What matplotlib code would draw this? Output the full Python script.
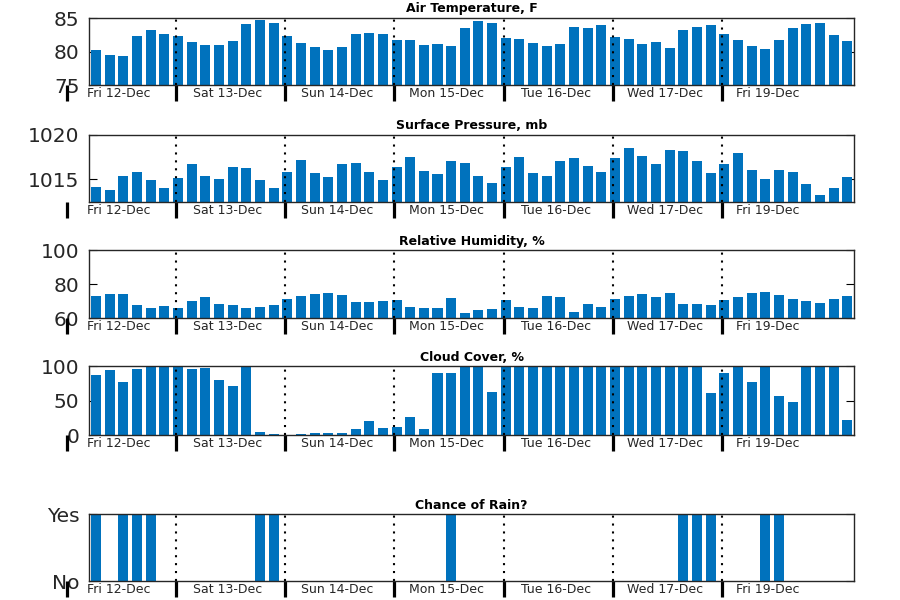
import numpy as np
import matplotlib
matplotlib.use('Agg')
import matplotlib.pyplot as plt

# DATA (3-hourly forecast, hours counted from Fri 12-Dec 00:00)
START_HOUR = 6.5
STEP_HOURS = 3

air_temp = [80.25, 79.5, 79.35, 82.35, 83.25, 82.65, 82.35, 81.45,
            81.0, 81.0, 81.6, 84.15, 84.75, 84.3, 82.35, 81.3,
            80.7, 80.25, 80.7, 82.65, 82.8, 82.65, 81.75, 81.75,
            81.0, 81.15, 80.85, 83.55, 84.6, 84.3, 82.05, 81.9,
            81.3, 80.85, 81.15, 83.7, 83.55, 84.0, 82.2, 81.9,
            81.15, 81.45, 80.55, 83.25, 83.7, 84.0, 82.65, 81.75,
            80.85, 80.4, 81.75, 83.55, 84.15, 84.3, 82.5, 81.6]

pressure = [1014.14, 1013.8, 1015.38, 1015.83, 1014.92, 1014.02, 1015.15, 1016.73,
            1015.38, 1015.04, 1016.39, 1016.28, 1014.92, 1014.02, 1015.83, 1017.18,
            1015.71, 1015.26, 1016.73, 1016.84, 1015.83, 1014.92, 1016.39, 1017.52,
            1015.94, 1015.6, 1017.07, 1016.84, 1015.38, 1014.59, 1016.39, 1017.52,
            1015.71, 1015.38, 1017.07, 1017.41, 1016.5, 1015.83, 1017.41, 1018.53,
            1017.63, 1016.73, 1018.31, 1018.2, 1017.07, 1015.71, 1016.73, 1017.97,
            1016.05, 1015.04, 1016.05, 1015.83, 1014.47, 1013.23, 1014.02, 1015.26]

humidity = [73.1, 74.3, 74.3, 67.8, 66.1, 67.3, 66.1, 70.2,
            72.5, 68.4, 67.8, 66.1, 66.7, 67.8, 71.4, 73.1,
            74.3, 74.9, 73.7, 69.6, 69.6, 70.2, 70.8, 66.7,
            66.1, 66.1, 72.0, 63.1, 64.9, 65.5, 70.8, 66.7,
            66.1, 73.1, 72.5, 63.7, 68.4, 66.7, 71.4, 73.1,
            74.3, 72.5, 74.9, 68.4, 68.4, 67.8, 70.8, 72.5,
            74.9, 75.5, 73.7, 71.4, 70.2, 69.0, 71.4, 73.1]

cloud = [87.4, 94.7, 77.3, 96.1, 100, 100, 100, 96.1,
         97.6, 80.2, 71.5, 100, 4.8, 1.9, 0, 1.9,
         3.4, 3.4, 3.4, 9.2, 20.8, 10.6, 12.1, 26.6,
         9.2, 90.3, 90.3, 100, 100, 62.8, 100, 100,
         100, 100, 100, 100, 100, 100, 100, 100,
         100, 100, 100, 100, 100, 61.4, 90.3, 100,
         77.3, 100, 57, 48.3, 100, 100, 100, 22.2]

rain = [1, 0, 1, 1, 1, 0, 0, 0,
        0, 0, 0, 0, 1, 1, 0, 0,
        0, 0, 0, 0, 0, 0, 0, 0,
        0, 0, 1, 0, 0, 0, 0, 0,
        0, 0, 0, 0, 0, 0, 0, 0,
        0, 0, 0, 1, 1, 1, 0, 0,
        0, 1, 1, 0, 0, 0, 0, 0]

day_labels = ['Fri 12-Dec', 'Sat 13-Dec', 'Sun 14-Dec', 'Mon 15-Dec',
              'Tue 16-Dec', 'Wed 17-Dec', 'Fri 19-Dec']
label_hours = [11.5, 35.5, 59.5, 83.5, 107.5, 131.5, 154.0]
midnights = [0, 24, 48, 72, 96, 120, 144]

PANELS = [
    ('Air Temperature, F', air_temp, (75, 85), [75, 80, 85], None),
    ('Surface Pressure, mb', pressure, (1012.4, 1020), [1015, 1020], None),
    ('Relative Humidity, %', humidity, (60, 100), [60, 80, 100], None),
    ('Cloud Cover, %', cloud, (0, 100), [0, 50, 100], None),
    ('Chance of Rain?', rain, (0, 1), [0, 1], ['No', 'Yes']),
]

# axes bottoms in figure fraction
BOTTOMS = [0.8583, 0.6628, 0.4695, 0.2745, 0.0312]
HEIGHTS = [0.1117, 0.1122, 0.1133, 0.1150, 0.1117]
LEFT, WIDTH = 0.0992, 0.8497

BAR_COLOR = '#0072BD'

hours = START_HOUR + STEP_HOURS * np.arange(len(air_temp))

fig = plt.figure(figsize=(9, 6), dpi=100)

for i, (title, vals, ylim, yticks, yticklabels) in enumerate(PANELS):
    ax = fig.add_axes([LEFT, BOTTOMS[i], WIDTH, HEIGHTS[i]])
    ax.bar(hours, vals, width=2.2, color=BAR_COLOR, zorder=2)

    for m in midnights[1:]:
        ax.axvline(m, color='black', linestyle=(0, (1, 2.8)), linewidth=1.5, zorder=3)

    ax.set_xlim(hours[0] - 1.5, hours[-1] + 1.5)
    ax.set_ylim(*ylim)
    ax.set_yticks(yticks)
    if yticklabels:
        ax.set_yticklabels(yticklabels)

    # day separators as thick ticks, day names as unticked minor labels
    ax.set_xticks(midnights[1:])
    ax.set_xticklabels([])
    ax.set_xticks(label_hours, minor=True)
    ax.set_xticklabels(day_labels, minor=True)
    ax.tick_params(axis='x', which='major', direction='out', length=11.5,
                   width=2.3, color='black', top=False)
    ax.tick_params(axis='x', which='minor', length=0, pad=1.5,
                   labelsize=9, labelcolor='#262626')
    ax.tick_params(axis='y', direction='in', length=6, width=0.8,
                   left=True, right=True, labelsize=14.5, pad=7,
                   labelcolor='#262626')

    # the first midnight lies left of the view, draw its tick by hand
    h_px = HEIGHTS[i] * 600
    ax.plot([midnights[0], midnights[0]], [0, -16 / h_px], color='black',
            linewidth=2.3, solid_capstyle='butt', clip_on=False,
            transform=ax.get_xaxis_transform())

    for sp in ax.spines.values():
        sp.set_linewidth(1.0)
        sp.set_color('#262626')

    ax.set_title(title, fontsize=9, fontweight='bold', pad=4)

plt.savefig('out.png', dpi=100)
plt.close()
